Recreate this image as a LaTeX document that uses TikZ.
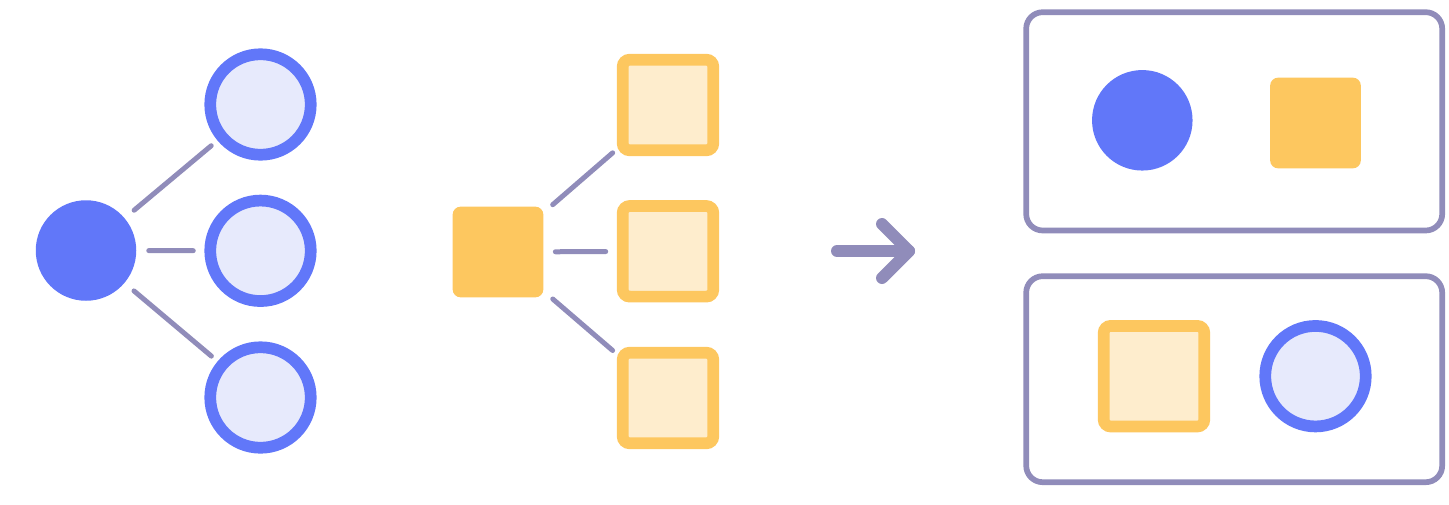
\documentclass[tikz,border=0pt]{standalone}
\usetikzlibrary{calc}
\definecolor{cblue}{HTML}{6177F9}
\definecolor{clightblue}{HTML}{E7EAFC}
\definecolor{corange}{HTML}{FDC75F}
\definecolor{clightorange}{HTML}{FEEDCD}
\definecolor{cgray}{HTML}{908CBA}
\tikzset{
  dotfull/.style={circle, fill=cblue, minimum size=100.5pt, inner sep=0pt, outer sep=0pt},
  dotring/.style={circle, fill=clightblue, draw=cblue, line width=11.7pt, minimum size=100.5pt, inner sep=0pt, outer sep=0pt},
  sqfull/.style={rectangle, rounded corners=8pt, fill=corange, minimum size=90.7pt, inner sep=0pt, outer sep=0pt},
  sqring/.style={rectangle, rounded corners=7pt, fill=clightorange, draw=corange, line width=11.7pt, minimum size=90.6pt, inner sep=0pt, outer sep=0pt},
  link/.style={draw=cgray, line width=5pt, line cap=round},
  groupbox/.style={draw=cgray, line width=5.7pt, rounded corners=16.5pt, fill=white},
  bigarrow/.style={draw=cgray, line width=12pt, line cap=round, line join=round}
}
\begin{document}
\begin{tikzpicture}[x=1pt, y=-1pt]
\useasboundingbox (0,0) rectangle (1449,504);
% circles tree
\node[dotfull] (big) at (86,250.5) {};
\node[dotring] (c1) at (260.5,104.5) {};
\node[dotring] (c2) at (260.5,250.8) {};
\node[dotring] (c3) at (260.5,397.5) {};
\draw[link, shorten <=12.5pt, shorten >=14pt] (big) -- (c1);
\draw[link, shorten <=12.5pt, shorten >=17pt] (big) -- (c2);
\draw[link, shorten <=12.5pt, shorten >=14pt] (big) -- (c3);
% squares tree
\node[sqfull] (sq) at (498,252) {};
\node[sqring] (s1) at (668,105) {};
\node[sqring] (s2) at (668,251.3) {};
\node[sqring] (s3) at (668,398) {};
\draw[link, shorten <=12.4pt, shorten >=13.3pt] (sq) -- (s1);
\draw[link, shorten <=12pt, shorten >=17pt] (sq) -- (s2);
\draw[link, shorten <=12.4pt, shorten >=13.3pt] (sq) -- (s3);
% arrow
\coordinate (a0) at (837,251);
\coordinate (a1) at (909,251);
\coordinate (au) at (882,224);
\coordinate (ad) at (882,278);
\draw[bigarrow] (a0) -- (a1);
\draw[bigarrow] (au) -- (a1) -- (ad);
% groups
\node[groupbox, minimum width=416pt, minimum height=218.3pt, inner sep=0pt, outer sep=0pt] (g1) at (1234.2,121.35) {};
\node[groupbox, minimum width=416pt, minimum height=206pt, inner sep=0pt, outer sep=0pt] (g2) at (1234.2,379.2) {};
\node[dotfull] (r1) at (1142.3,120.3) {};
\node[sqfull] (r2) at (1315.5,123) {};
\node[sqring, minimum size=100.6pt] (r3) at (1154,376.2) {};
\node[dotring] (r4) at (1315.5,376.2) {};
\end{tikzpicture}
\end{document}
